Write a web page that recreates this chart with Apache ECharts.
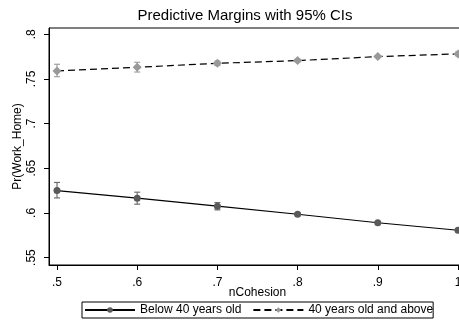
<!DOCTYPE html>
<html>
<head>
<meta charset="utf-8">
<script src="https://cdn.jsdelivr.net/npm/echarts@6/dist/echarts.min.js"></script>
<style>
  html, body { margin: 0; padding: 0; background: #fff; }
  #main { width: 459px; height: 329px; }
</style>
</head>
<body>
<div id="main"></div>
<script>
// nCohesion values (x) and tick labels
var xValues = [0.5, 0.6, 0.7, 0.8, 0.9, 1.0];
var xTickLabels = ['.5', '.6', '.7', '.8', '.9', '1'];
var yTicks = [0.55, 0.6, 0.65, 0.7, 0.75, 0.8];
var yTickLabels = ['.55', '.6', '.65', '.7', '.75', '.8'];

// Below 40 years old: margin and 95% CI
var below = [0.625, 0.6165, 0.6075, 0.5985, 0.589, 0.5806];
var belowLo = [0.6168, 0.6098, 0.6034, 0.597, 0.588, 0.5791];
var belowHi = [0.6341, 0.6232, 0.6116, 0.600, 0.590, 0.5821];

// 40 years old and above: margin and 95% CI
var above = [0.7589, 0.763, 0.7675, 0.7705, 0.775, 0.778];
var aboveLo = [0.7525, 0.7577, 0.765, 0.769, 0.774, 0.776];
var aboveHi = [0.7664, 0.7686, 0.770, 0.772, 0.776, 0.780];

var seriesNames = ['Below 40 years old', '40 years old and above'];
var FONT = '"Liberation Sans", Arial, sans-serif';

function pairs(ys) {
  return xValues.map(function(x, i) { return [x, ys[i]]; });
}
function ciData(lo, hi) {
  return xValues.map(function(x, i) { return [x, lo[i], hi[i]]; });
}
function errorBar(color) {
  return function(params, api) {
    var top = api.coord([api.value(0), api.value(2)]);
    var bot = api.coord([api.value(0), api.value(1)]);
    var cap = 3;
    var style = { stroke: color, lineWidth: 1.2 };
    return {
      type: 'group',
      children: [
        { type: 'line', shape: { x1: top[0], y1: top[1], x2: bot[0], y2: bot[1] }, style: style },
        { type: 'line', shape: { x1: top[0] - cap, y1: top[1], x2: top[0] + cap, y2: top[1] }, style: style },
        { type: 'line', shape: { x1: bot[0] - cap, y1: bot[1], x2: bot[0] + cap, y2: bot[1] }, style: style }
      ]
    };
  };
}

var chart = echarts.init(document.getElementById('main'));
var option = {
  animation: false,
  backgroundColor: '#fff',
  textStyle: { fontFamily: FONT, color: '#000' },
  title: {
    text: 'Predictive Margins with 95% CIs',
    left: 240,
    textAlign: 'center',
    top: 3,
    textStyle: { fontFamily: FONT, fontSize: 15, fontWeight: 'normal', color: '#000' }
  },
  legend: {
    data: seriesNames,
    left: 82,
    top: 302,
    padding: [2, 0, 2, 2],
    itemGap: 11,
    itemWidth: 50,
    itemHeight: 7,
    borderColor: '#000',
    borderWidth: 1,
    borderRadius: 0,
    textStyle: { fontFamily: FONT, fontSize: 12, color: '#000' }
  },
  grid: {
    left: 49,
    top: 28,
    width: 417,
    height: 237,
    outerBoundsMode: 'none',
    containLabel: false,
    show: true,
    borderColor: '#000',
    borderWidth: 1
  },
  xAxis: {
    type: 'value',
    min: 0.49,
    max: 1.01,
    name: 'nCohesion',
    nameLocation: 'middle',
    nameGap: 22,
    nameMoveOverlap: false,
    nameTextStyle: { fontFamily: FONT, fontSize: 12, color: '#000' },
    axisLine: { lineStyle: { color: '#000' } },
    axisTick: { length: 5, lineStyle: { color: '#000' }, customValues: xValues },
    axisLabel: {
      customValues: xValues,
      margin: 12,
      fontFamily: FONT, fontSize: 12, color: '#000',
      formatter: function(v) {
        var i = xValues.findIndex(function(x) { return Math.abs(x - v) < 1e-6; });
        return i >= 0 ? xTickLabels[i] : '';
      }
    },
    splitLine: { show: false }
  },
  yAxis: {
    type: 'value',
    min: 0.5417,
    max: 0.807,
    name: 'Pr(Work_Home)',
    nameLocation: 'middle',
    nameGap: 25,
    nameMoveOverlap: false,
    nameTextStyle: { fontFamily: FONT, fontSize: 12, color: '#000' },
    axisLine: { show: true, lineStyle: { color: '#000' } },
    axisTick: { show: true, length: 5, lineStyle: { color: '#000' }, customValues: yTicks },
    axisLabel: {
      customValues: yTicks,
      rotate: 90,
      margin: 11,
      fontFamily: FONT, fontSize: 12, color: '#000',
      formatter: function(v) {
        var i = yTicks.findIndex(function(y) { return Math.abs(y - v) < 1e-6; });
        return i >= 0 ? yTickLabels[i] : '';
      }
    },
    splitLine: { show: false }
  },
  series: [
    {
      type: 'custom',
      name: 'ci-below',
      renderItem: errorBar('#6e6e6e'),
      data: ciData(belowLo, belowHi),
      encode: { x: 0, y: [1, 2] },
      z: 1,
      silent: true
    },
    {
      type: 'custom',
      name: 'ci-above',
      renderItem: errorBar('#a0a0a0'),
      data: ciData(aboveLo, aboveHi),
      encode: { x: 0, y: [1, 2] },
      z: 1,
      silent: true
    },
    {
      name: seriesNames[0],
      type: 'line',
      data: pairs(below),
      symbol: 'circle',
      symbolSize: 7,
      itemStyle: { color: '#5a5a5a' },
      lineStyle: { color: '#000', width: 1.2, type: 'solid' },
      z: 3
    },
    {
      name: seriesNames[1],
      type: 'line',
      data: pairs(above),
      symbol: 'diamond',
      symbolSize: 9,
      itemStyle: { color: '#999999' },
      lineStyle: { color: '#000', width: 1.2, type: [7, 4] },
      z: 3
    }
  ]
};
chart.setOption(option);
</script>
</body>
</html>
